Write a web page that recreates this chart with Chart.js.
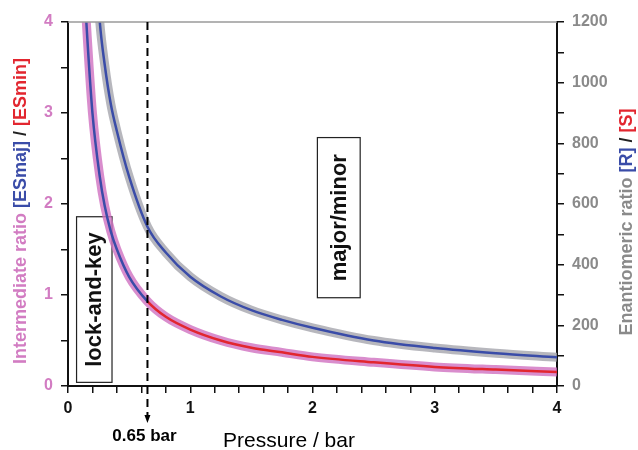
<!DOCTYPE html>
<html>
<head>
<meta charset="utf-8">
<script src="https://cdn.jsdelivr.net/npm/chart.js@4.4.1/dist/chart.umd.min.js"></script>
<style>
  html, body { margin: 0; padding: 0; background: #fff; }
  #wrap { width: 638px; height: 450px; }
</style>
</head>
<body>
<div id="wrap"><canvas id="chart" width="638" height="450"></canvas></div>
<script>
// pressure (bar)
const pressure = [0.13, 0.15, 0.2, 0.26, 0.3, 0.35, 0.4, 0.5, 0.65, 0.8, 1, 1.25, 1.5, 1.75, 2, 2.5, 3, 3.5, 4];
// intermediate ratio [ESmaj]/[ESmin], left axis
const intermediateRatio = [4.5, 4.0, 3.0, 2.3, 1.98, 1.7, 1.5, 1.2, 0.93, 0.76, 0.62, 0.5, 0.42, 0.37, 0.32, 0.26, 0.21, 0.18, 0.155];
// enantiomeric ratio [R]/[S], right axis
const enantiomericRatio = [2500, 2150, 1570, 1200, 1060, 930, 840, 690, 525, 440, 360, 295, 250, 218, 192, 150, 125, 108, 95];

const markPressure = 0.65;
const leftTicks = [0, 1, 2, 3, 4];
const rightTicks = [0, 200, 400, 600, 800, 1000, 1200];
const bottomTicks = [0, 1, 2, 3, 4];

const BLUE = '#3a4ca8';
const RED = '#e2262f';
const PINK = '#d27cc2';
const GREY = '#8a8a8a';
const FONT = '"Liberation Sans", Arial, sans-serif';

const toPts = (ys) => pressure.map((p, i) => ({ x: p, y: ys[i] }));
const isOn = (v, list) => list.some(t => Math.abs(t - v) < 1e-6);

// labelled boxes go under the curves
const boxes = {
    id: 'boxes',
    beforeDatasetsDraw(chart) {
        const { ctx, scales } = chart;
        const x = scales.x, y = scales.y;
        function box(x0, x1, y0, y1, text) {
            const px0 = x.getPixelForValue(x0), px1 = x.getPixelForValue(x1);
            const py0 = y.getPixelForValue(y0), py1 = y.getPixelForValue(y1);
            ctx.save();
            ctx.fillStyle = '#fff';
            ctx.fillRect(px0, py1, px1 - px0, py0 - py1);
            ctx.strokeStyle = '#222';
            ctx.lineWidth = 1.2;
            ctx.strokeRect(px0, py1, px1 - px0, py0 - py1);
            ctx.translate((px0 + px1) / 2, (py0 + py1) / 2);
            ctx.rotate(-Math.PI / 2);
            ctx.fillStyle = '#111';
            ctx.font = 'bold 22px ' + FONT;
            ctx.textAlign = 'center';
            ctx.textBaseline = 'middle';
            ctx.fillText(text, 0, 1);
            ctx.restore();
        }
        box(0.07, 0.36, 0.04, 1.86, 'lock-and-key');
        box(2.04, 2.39, 0.97, 2.73, 'major/minor');
    }
};

// extra drawing: frame top, dashed marker, axis titles
const extras = {
    id: 'extras',
    afterDraw(chart) {
        const { ctx, chartArea: a, scales } = chart;
        const x = scales.x;
        ctx.save();

        // grey top edge
        ctx.strokeStyle = '#9a9a9a';
        ctx.lineWidth = 1.5;
        ctx.beginPath();
        ctx.moveTo(a.left, a.top);
        ctx.lineTo(a.right, a.top);
        ctx.stroke();

        // dashed line at 0.65 bar with arrow
        const mx = x.getPixelForValue(markPressure);
        ctx.strokeStyle = '#000';
        ctx.lineWidth = 2;
        ctx.setLineDash([8, 5]);
        ctx.beginPath();
        ctx.moveTo(mx, a.top);
        ctx.lineTo(mx, a.bottom + 30);
        ctx.stroke();
        ctx.setLineDash([]);
        ctx.fillStyle = '#000';
        ctx.beginPath();
        ctx.moveTo(mx - 3, a.bottom + 29);
        ctx.lineTo(mx + 3, a.bottom + 29);
        ctx.lineTo(mx, a.bottom + 37);
        ctx.closePath();
        ctx.fill();
        ctx.font = 'bold 17px ' + FONT;
        ctx.textAlign = 'center';
        ctx.textBaseline = 'middle';
        ctx.fillText(markPressure + ' bar', mx - 3, a.bottom + 50);

        // x title
        ctx.font = '21px ' + FONT;
        ctx.fillText('Pressure / bar', 289, a.bottom + 55);

        // multi-coloured rotated titles
        function title(cx, cy, parts) {
            ctx.save();
            ctx.translate(cx, cy);
            ctx.rotate(-Math.PI / 2);
            ctx.textAlign = 'left';
            ctx.textBaseline = 'middle';
            ctx.font = 'bold 18px ' + FONT;
            let total = 0;
            parts.forEach(p => { total += ctx.measureText(p[0]).width; });
            let pos = -total / 2;
            parts.forEach(p => {
                ctx.fillStyle = p[1];
                ctx.fillText(p[0], pos, 0);
                pos += ctx.measureText(p[0]).width;
            });
            ctx.restore();
        }
        title(21, 211, [['Intermediate ratio ', PINK], ['[ESmaj]', BLUE], [' / ', '#222'], ['[ESmin]', RED]]);
        title(627, 222, [['Enantiomeric ratio ', GREY], ['[R]', BLUE], [' / ', '#222'], ['[S]', RED]]);

        ctx.restore();
    }
};

new Chart(document.getElementById('chart').getContext('2d'), {
    type: 'line',
    data: {
        datasets: [
            {
                data: toPts(intermediateRatio),
                yAxisID: 'y',
                borderWidth: 2.5,
                borderColor: RED,
                segment: {
                    borderColor: c => c.p0.parsed.x < markPressure - 1e-6 ? BLUE : RED
                },
                order: 0
            },
            {
                data: toPts(enantiomericRatio),
                yAxisID: 'y2',
                borderWidth: 2.5,
                borderColor: BLUE,
                order: 0
            },
            {
                data: toPts(intermediateRatio),
                yAxisID: 'y',
                borderWidth: 9,
                borderColor: 'rgba(208, 112, 192, 0.8)',
                order: 1
            },
            {
                data: toPts(enantiomericRatio),
                yAxisID: 'y2',
                borderWidth: 9,
                borderColor: 'rgba(165, 165, 172, 0.8)',
                order: 1
            }
        ]
    },
    options: {
        responsive: false,
        animation: false,
        events: [],
        layout: { padding: { top: 22, left: 0, right: 0, bottom: 0 } },
        elements: {
            point: { radius: 0 },
            line: { cubicInterpolationMode: 'monotone', fill: false }
        },
        plugins: { legend: { display: false }, tooltip: { enabled: false } },
        scales: {
            x: {
                type: 'linear',
                min: 0, max: 4,
                afterFit: s => { s.height = 64; },
                afterBuildTicks: s => { s.ticks = []; for (let i = 0; i <= 20; i++) s.ticks.push({ value: i * 0.2 }); },
                ticks: {
                    autoSkip: false,
                    maxRotation: 0,
                    padding: 6,
                    color: '#111',
                    font: { family: FONT, size: 16, weight: 'bold' },
                    callback: v => isOn(v, bottomTicks) ? Math.round(v) : ''
                },
                grid: { drawOnChartArea: false, tickLength: 7, color: '#111', lineWidth: 1.5 },
                border: { color: '#111', width: 2 }
            },
            y: {
                type: 'linear',
                position: 'left',
                min: 0, max: 4,
                afterFit: s => { s.width = 68; },
                afterBuildTicks: s => { s.ticks = []; for (let i = 0; i <= 8; i++) s.ticks.push({ value: i * 0.5 }); },
                ticks: {
                    autoSkip: false,
                    padding: 8,
                    color: PINK,
                    font: { family: FONT, size: 16, weight: 'bold' },
                    callback: v => isOn(v, leftTicks) ? v : ''
                },
                grid: { drawOnChartArea: false, tickLength: 7, color: '#111', lineWidth: 1.5 },
                border: { color: '#111', width: 2 }
            },
            y2: {
                type: 'linear',
                position: 'right',
                min: 0, max: 1200,
                afterFit: s => { s.width = 81; },
                afterBuildTicks: s => { s.ticks = []; for (let i = 0; i <= 12; i++) s.ticks.push({ value: i * 100 }); },
                ticks: {
                    autoSkip: false,
                    padding: 8,
                    color: GREY,
                    font: { family: FONT, size: 16, weight: 'bold' },
                    callback: v => isOn(v, rightTicks) ? v : ''
                },
                grid: { drawOnChartArea: false, tickLength: 7, color: '#111', lineWidth: 1.5 },
                border: { color: '#111', width: 2 }
            }
        }
    },
    plugins: [boxes, extras]
});
</script>
</body>
</html>
